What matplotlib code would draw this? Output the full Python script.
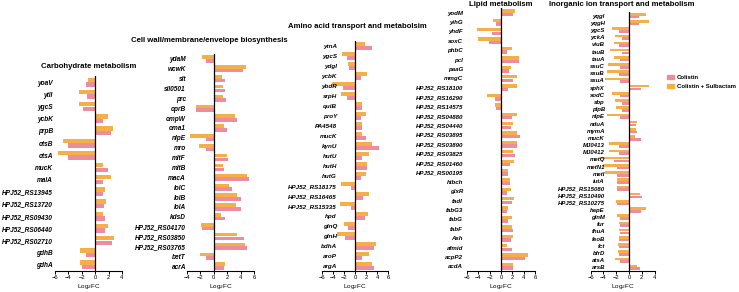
import numpy as np
import matplotlib
matplotlib.use("Agg")
import matplotlib.pyplot as plt
from matplotlib.patches import Patch

plt.rcParams['font.family'] = ['Liberation Sans', 'DejaVu Sans']

# ---- data (Log2FC), orange = Colistin + Sulbactam, pink = Colistin ----
carb_genes = ['yoaV', 'ytlI', 'ygcS', 'ycbK', 'prpB', 'otsB', 'otsA', 'mucK', 'malA',
              'HPJ52_RS13945', 'HPJ52_RS13720', 'HPJ52_RS09430', 'HPJ52_RS06440',
              'HPJ52_RS02710', 'gdhB', 'gdhA']
carb_sul = [-1.0, -2.4, -2.4, 1.9, 2.6, -4.8, -5.6, 1.1, 2.4, 1.4, 1.6, 1.2, 1.9, 2.8, -2.2, -2.2]
carb_col = [-1.3, -1.2, -1.8, 1.1, 2.3, -4.0, -4.0, 1.9, 1.2, 1.2, 1.3, 1.4, 1.4, 2.5, -1.4, -1.9]

cell_genes = ['ydaM', 'wcwK', 'slt', 'sll0501', 'prc', 'oprB', 'ompW', 'oma1', 'nlpE', 'mro',
              'mltF', 'mltB', 'macA', 'lolC', 'lolB', 'lolA', 'kdsD', 'HPJ52_RS04170',
              'HPJ52_RS03850', 'HPJ52_RS03765', 'betT', 'acrA']
cell_sul = [-1.7, 4.8, 1.2, 1.3, 1.4, -2.6, 3.2, 1.5, -3.5, -2.2, 1.9, 1.3, 4.9, 2.3, 3.5, 3.3,
            1.1, -1.9, 3.5, 4.6, -2.1, 1.7]
cell_col = [-1.1, 4.4, 1.7, 1.6, 1.8, -2.6, 3.5, 2.0, -1.2, -1.1, 2.1, 1.5, 5.3, 2.7, 4.0, 4.1,
            1.7, -1.7, 4.5, 5.0, -1.1, 1.5]

amino_genes = ['ytnA', 'ygcS', 'ydgI', 'ycbK', 'ybdR', 'srpH', 'quiB', 'proY', 'PA4548', 'mucK',
               'kynU', 'hutU', 'hutH', 'hutG', 'HPJ52_RS18175', 'HPJ52_RS16465',
               'HPJ52_RS15335', 'hpd', 'glnQ', 'glnH', 'bdhA', 'aroP', 'argA']
amino_sul = [1.9, -2.4, -1.3, 2.1, -4.1, -2.5, 1.3, 2.0, 1.2, 1.2, 3.1, 2.6, 2.1, 2.0, -2.6, 2.6,
             -2.8, 2.3, -2.0, -3.2, 3.9, 2.6, 3.1]
amino_col = [3.0, -1.5, -1.1, 1.0, -2.1, -1.4, 1.3, 1.1, 1.2, 2.0, 4.4, 1.2, 2.1, 1.0, -0.8, 1.5,
             -0.8, 1.9, -1.2, -1.8, 3.5, 1.2, 3.4]

lipid_genes = ['yodM', 'yihG', 'yhdF', 'soxC', 'phbC', 'pcl', 'paaG', 'mmgC', 'HPJ52_RS18100',
               'HPJ52_RS16290', 'HPJ52_RS14575', 'HPJ52_RS04880', 'HPJ52_RS04440',
               'HPJ52_RS03895', 'HPJ52_RS03890', 'HPJ52_RS03825', 'HPJ52_RS01460',
               'HPJ52_RS00195', 'hibch', 'glxR', 'fadI', 'fabG3', 'fabG', 'fabF', 'Ash',
               'afmid', 'acpP2', 'acdA']
lipid_sul = [2.5, -1.4, -4.2, -4.0, 1.9, 3.1, 1.8, 2.9, 2.8, -2.4, -1.1, 2.8, 2.2, 2.9, 2.8, 2.2,
             2.3, 1.3, 1.6, 1.7, 2.3, 1.3, 1.9, 1.9, 2.2, 1.1, 4.7, 2.2]
lipid_col = [2.1, -0.9, -1.6, -2.2, 1.1, 3.1, 1.5, 2.2, 1.3, -1.1, -0.9, 1.9, 1.8, 3.4, 2.8, 2.5,
             1.6, 1.3, 1.6, 1.0, 1.9, 1.0, 1.3, 2.1, 1.8, 1.9, 4.2, 2.1]

ion_genes = ['yqgI', 'yqgH', 'ygcS', 'yckA', 'viuB', 'tauB', 'tauA', 'ssuC', 'ssuB', 'ssuA',
             'sphX', 'sodC', 'sbp', 'plpB', 'nlpE', 'nduA', 'mymA', 'mucK', 'MJ0413', 'MJ0412',
             'metQ', 'metN1', 'metI', 'iutA', 'HPJ52_RS15080', 'HPJ52_RS10490',
             'HPJ52_RS10275', 'hapE', 'glnM', 'fur', 'fhuA', 'feoB', 'fct', 'bfrD', 'atsA', 'arsB']
ion_sul = [2.6, 3.2, -2.7, -2.2, -2.4, -3.0, -2.4, -3.3, -3.4, -3.8, 3.2, -2.7, -2.2, -2.0, -3.4,
           1.2, 1.1, 0.9, -3.2, -3.2, -4.6, -4.0, -3.7, -1.8, -1.8, 1.7, -2.0, 2.6, -1.9, -1.5,
           -1.5, -1.6, -1.7, -1.7, -2.2, 1.3]
ion_col = [1.6, 1.6, -1.5, -1.1, -1.5, -1.1, -1.4, -1.4, -1.5, -1.4, 1.9, -1.4, -1.1, -1.1, -1.4,
           1.1, 1.2, 1.9, -1.5, -1.5, -2.4, -1.9, -1.8, -1.8, -1.8, 2.1, -1.8, 1.9, -1.4, -1.4,
           -1.4, -1.5, -1.6, -1.6, -1.4, 1.7]

PINK = '#EC8C9C'
ORANGE = '#F5AF48'
W, H = 739, 292

fig = plt.figure(figsize=(7.39, 2.92), dpi=100)

# (genes, sul, col, title, x0, x1, ytop, xlim, label_end, title_x, title_y, fontsize)
panels = [
    (carb_genes, carb_sul, carb_col, 'Carbohydrate metabolism', 55, 122, 76, (-6, 4), 53, 89, 66, 4.7),
    (cell_genes, cell_sul, cell_col, 'Cell wall/membrane/envelope biosynthesis', 187, 254, 54, (-4, 6), 186, 209, 40, 4.7),
    (amino_genes, amino_sul, amino_col, 'Amino acid transport and metabolsim', 322, 388, 41, (-6, 6), 337, 357, 27, 4.5),
    (lipid_genes, lipid_sul, lipid_col, 'Lipid metabolism', 467, 535, 8, (-6, 6), 463, 501, 5, 4.4),
    (ion_genes, ion_sul, ion_col, 'Inorganic ion transport and metabolism', 590.6, 654.6, 12, (-6, 4), 605, 622, 5, 4.3),
]
ybot = 271

for genes, sul, col, title, x0, x1, ytop, xlim, lab_end, tx, ty, fs in panels:
    ax = fig.add_axes([x0 / W, 1 - ybot / H, (x1 - x0) / W, (ybot - ytop) / H])
    y = np.arange(len(genes))
    ax.barh(y - 0.19, sul, height=0.36, color=ORANGE, linewidth=0)
    ax.barh(y + 0.19, col, height=0.36, color=PINK, linewidth=0)
    ax.axvline(0, color='black', lw=0.9, zorder=3)
    ax.set_xlim(*xlim)
    ax.set_ylim(len(genes) - 0.5, -0.5)
    ax.set_xticks(np.arange(xlim[0], xlim[1] + 1, 2))
    ax.set_yticks(y)
    ax.set_yticklabels(genes, fontstyle='italic', fontweight='bold', fontsize=fs)
    ax.tick_params(axis='y', length=0, pad=(x0 - lab_end) * 0.72)
    ax.tick_params(axis='x', length=2, width=0.7, pad=1, labelsize=4.2)
    for s in ['top', 'right', 'left']:
        ax.spines[s].set_visible(False)
    ax.spines['bottom'].set_linewidth(0.8)
    ax.set_xlabel('Log$_2$FC', fontsize=4.6, labelpad=1.0)
    ax.set_facecolor('none')
    fig.text(tx / W, 1 - ty / H, title, ha='center', va='center', fontsize=5.6, fontweight='bold')

handles = [Patch(color=PINK, label='Colistin'), Patch(color=ORANGE, label='Colistin + Sulbactam')]
fig.legend(handles=handles, loc='upper left', bbox_to_anchor=(666 / W, 1 - 74 / H), frameon=False,
           handlelength=1.1, handleheight=0.7, handletextpad=0.5, labelspacing=0.6,
           borderaxespad=0, borderpad=0.2, prop={'weight': 'bold', 'size': 4.3})

fig.savefig('out.png', dpi=100)
